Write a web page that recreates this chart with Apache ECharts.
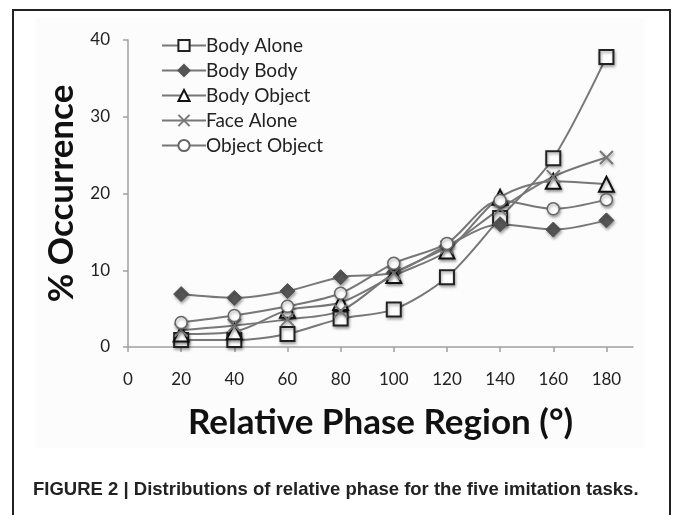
<!DOCTYPE html>
<html><head><meta charset="utf-8">
<script src="https://cdn.jsdelivr.net/npm/echarts@6/dist/echarts.min.js"></script>
<style>html,body{margin:0;padding:0;background:#fff}#c{width:673px;height:515px}</style>
</head><body><div id="c"></div>
<script>
const phases = [20, 40, 60, 80, 100, 120, 140, 160, 180];
const xTicks = [0, 20, 40, 60, 80, 100, 120, 140, 160, 180];
const bodyAlone    = [0.9, 0.9, 1.7, 3.7, 4.9, 9.1, 16.8, 24.6, 37.8];
const bodyBody     = [6.9, 6.4, 7.3, 9.1, 9.7, 13.2, 16.0, 15.3, 16.5];
const bodyObject   = [1.7, 2.0, 4.8, 5.8, 9.3, 12.5, 19.5, 21.6, 21.2];
const faceAlone    = [2.2, 2.8, 3.6, 4.7, 9.6, 13.0, 18.0, 22.2, 24.7];
const objectObject = [3.2, 4.1, 5.3, 7.0, 10.9, 13.5, 19.1, 18.0, 19.2];
const seriesNames = ['Body Alone', 'Body Body', 'Body Object', 'Face Alone', 'Object Object'];
const captionText = 'FIGURE 2 | Distributions of relative phase for the five imitation tasks.';

const pair = arr => phases.map((p, i) => [p, arr[i]]);
const shadow = {shadowBlur: 3, shadowColor: 'rgba(0,0,0,0.35)', shadowOffsetX: 1, shadowOffsetY: 2};
const lineStyle = {color: '#777', width: 2};
const mk = (name, data, symbol, size, itemStyle) => ({
  name, type: 'line', data: pair(data), smooth: 0.3, symbol, symbolSize: size,
  showAllSymbol: true, lineStyle, itemStyle: Object.assign({}, shadow, itemStyle), z: 3
});

const chart = echarts.init(document.getElementById('c'), null, {renderer: 'canvas'});
chart.setOption({
  animation: false,
  backgroundColor: '#fff',
  graphic: [
    {type: 'rect', shape: {x: 35, y: 18, width: 610, height: 430}, style: {fill: '#fcfcfc'}, z: -10, silent: true},
    {type: 'line', shape: {x1: 13, y1: 10, x2: 13, y2: 515}, style: {stroke: '#222', lineWidth: 2}},
    {type: 'line', shape: {x1: 12, y1: 10, x2: 671, y2: 10}, style: {stroke: '#222', lineWidth: 2}},
    {type: 'line', shape: {x1: 670, y1: 10, x2: 670, y2: 515}, style: {stroke: '#222', lineWidth: 2}},
    {type: 'text', left: 33, top: 480, style: {text: captionText, fill: '#222',
      font: 'bold 18.5px "Liberation Sans Narrow", "Liberation Sans", Arial, sans-serif'}}
  ],
  grid: {left: 128, right: 40, top: 40, bottom: 168, containLabel: false},
  legend: {
    orient: 'vertical', left: 156, top: 31, itemWidth: 44, itemHeight: 14, itemGap: 6,
    data: seriesNames,
    textStyle: {fontFamily: 'Lato, "Open Sans", sans-serif', fontSize: 19, color: '#222', padding: [0, 0, 0, -5]}
  },
  xAxis: {
    type: 'value', min: 0, max: 190,
    name: 'Relative Phase Region (°)', nameLocation: 'middle', nameGap: 58,
    nameTextStyle: {fontFamily: 'Lato, "Open Sans", sans-serif', fontWeight: 'bold', fontSize: 35, color: '#111'},
    axisLine: {show: true, lineStyle: {color: '#a0a0a0', width: 1.5}},
    axisTick: {show: true, length: 5, customValues: xTicks, lineStyle: {color: '#a0a0a0', width: 1.5}},
    axisLabel: {customValues: xTicks, margin: 24, fontFamily: 'Lato, "Open Sans", sans-serif', fontSize: 17, color: '#222'},
    splitLine: {show: false}
  },
  yAxis: {
    type: 'value', min: 0, max: 40, interval: 10,
    name: '% Occurrence', nameLocation: 'middle', nameGap: 39, nameRotate: 90,
    nameTextStyle: {fontFamily: 'Lato, "Open Sans", sans-serif', fontWeight: 'bold', fontSize: 35, color: '#111'},
    axisLine: {show: true, lineStyle: {color: '#a0a0a0', width: 1.5}},
    axisTick: {show: true, length: 5, lineStyle: {color: '#a0a0a0', width: 1.5}},
    axisLabel: {margin: 18, fontFamily: 'Lato, "Open Sans", sans-serif', fontSize: 17, color: '#222'},
    splitLine: {show: false}
  },
  series: [
    mk(seriesNames[0], bodyAlone, 'rect', 14, {color: '#fff', borderColor: '#222', borderWidth: 2}),
    mk(seriesNames[1], bodyBody, 'diamond', 15, {color: '#555', borderColor: '#555', borderWidth: 1}),
    mk(seriesNames[2], bodyObject, 'triangle', 15, {color: '#fff', borderColor: '#111', borderWidth: 2}),
    mk(seriesNames[3], faceAlone, 'path://M0,0L10,10M10,0L0,10', 13, {color: 'none', borderColor: '#777', borderWidth: 2}),
    mk(seriesNames[4], objectObject, 'circle', 12, {color: '#fff', borderColor: '#666', borderWidth: 1.5})
  ]
});
</script></body></html>
